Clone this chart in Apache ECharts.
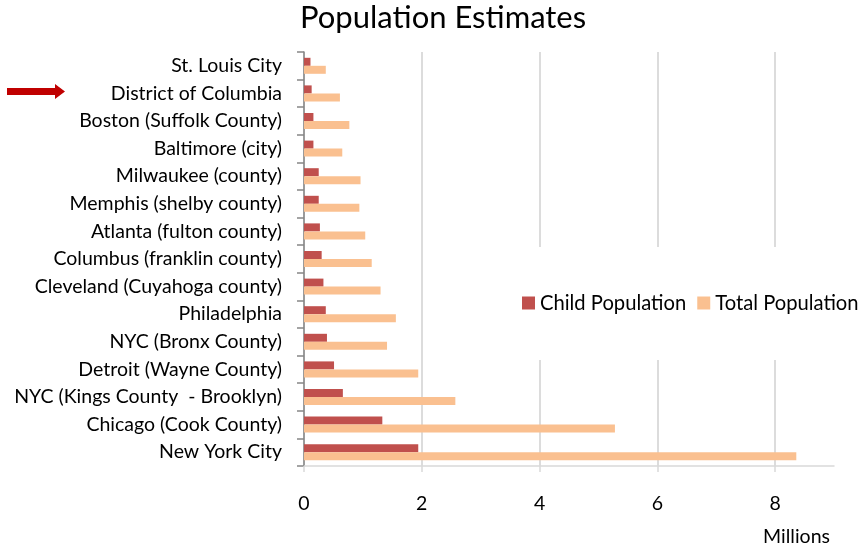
<!DOCTYPE html>
<html>
<head>
<meta charset="utf-8">
<style>
  html, body { margin: 0; padding: 0; background: #fff; }
  #chart { width: 862px; height: 550px; }
</style>
<script src="https://cdn.jsdelivr.net/npm/echarts@6/dist/echarts.min.js"></script>
</head>
<body>
<div id="chart"></div>
<script>
// Counties / cities, bottom to top on the category axis
const categories = [
  'New York City',
  'Chicago (Cook County)',
  'NYC (Kings County  - Brooklyn)',
  'Detroit (Wayne County)',
  'NYC (Bronx County)',
  'Philadelphia',
  'Cleveland (Cuyahoga county)',
  'Columbus (franklin county)',
  'Atlanta (fulton county)',
  'Memphis (shelby county)',
  'Milwaukee (county)',
  'Baltimore (city)',
  'Boston (Suffolk County)',
  'District of Columbia',
  'St. Louis City'
];

// Population in millions
const childPopulation = [1.94, 1.33, 0.66, 0.51, 0.39, 0.37, 0.33, 0.30, 0.27, 0.25, 0.25, 0.16, 0.16, 0.13, 0.11];
const totalPopulation = [8.36, 5.28, 2.57, 1.94, 1.41, 1.56, 1.30, 1.15, 1.04, 0.94, 0.96, 0.65, 0.77, 0.61, 0.37];

const xTicks = [0, 2, 4, 6, 8];
const highlighted = 'District of Columbia';

const FONT = 'Lato, "Open Sans", sans-serif';
const LABEL_SIZE = 19.5;
const chart = echarts.init(document.getElementById('chart'), null, { renderer: 'canvas' });

const option = {
  animation: false,
  backgroundColor: '#fff',
  textStyle: { fontFamily: FONT },
  title: [
    {
      text: 'Population Estimates',
      left: 300, top: 2, padding: 0,
      textStyle: { fontFamily: FONT, fontSize: 31, fontWeight: 'normal', color: '#000' }
    },
    {
      text: 'Millions',
      right: 32, top: 527, padding: 0,
      textStyle: { fontFamily: FONT, fontSize: LABEL_SIZE, fontWeight: 'normal', color: '#000' }
    }
  ],
  legend: {
    data: ['Child Population', 'Total Population'],
    orient: 'horizontal',
    left: 512, top: 247, width: 345,
    padding: [46, 0, 47, 10],
    backgroundColor: '#fff',
    itemWidth: 13, itemHeight: 13, itemGap: 11,
    icon: 'rect',
    textStyle: { fontFamily: FONT, fontSize: 20.2, color: '#000' }
  },
  grid: { left: 304, right: 28, top: 52, bottom: 84, containLabel: false },
  xAxis: {
    type: 'value',
    min: 0, max: 9, interval: 2,
    axisLine: { show: true, lineStyle: { color: '#d9d9d9', width: 1.5 } },
    axisTick: { show: true, length: 6, customValues: xTicks, lineStyle: { color: '#d9d9d9', width: 1.5 } },
    axisLabel: {
      customValues: xTicks,
      margin: 28, fontFamily: FONT, fontSize: LABEL_SIZE, color: '#000'
    },
    splitLine: {
      show: true,
      lineStyle: { color: ['#d0d0d0', '#d0d0d0', '#d0d0d0', '#d0d0d0', '#d0d0d0', 'rgba(0,0,0,0)'], width: 1.5 }
    }
  },
  yAxis: {
    type: 'category',
    data: categories,
    axisLine: { show: true, lineStyle: { color: '#868686', width: 1.5 } },
    axisTick: { show: true, length: 7, lineStyle: { color: '#868686', width: 1.5 } },
    axisLabel: { margin: 22, fontFamily: FONT, fontSize: LABEL_SIZE, color: '#000' },
    splitLine: { show: false }
  },
  series: [
    {
      name: 'Child Population',
      type: 'bar',
      data: childPopulation,
      barWidth: 8,
      barGap: '0%',
      itemStyle: { color: '#c0504d' }
    },
    {
      name: 'Total Population',
      type: 'bar',
      data: totalPopulation,
      barWidth: 8,
      barGap: '0%',
      itemStyle: { color: '#fac090' }
    }
  ]
};

chart.setOption(option);

// Red pointer arrow next to the highlighted category label
const yc = chart.convertToPixel({ yAxisIndex: 0 }, highlighted) - 2;
chart.setOption({
  graphic: [{
    type: 'polygon',
    shape: {
      points: [
        [7, yc - 3.5], [55, yc - 3.5], [55, yc - 7.5], [65, yc],
        [55, yc + 7.5], [55, yc + 3.5], [7, yc + 3.5]
      ]
    },
    style: { fill: '#c00000' },
    silent: true
  }]
});
</script>
</body>
</html>
